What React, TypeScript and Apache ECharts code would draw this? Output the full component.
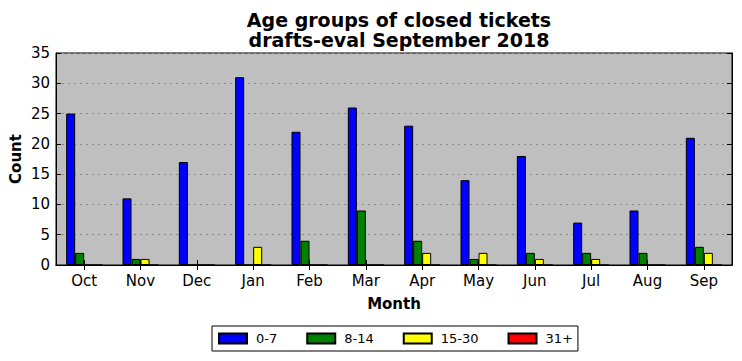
import React, { useEffect, useRef } from "react";
import * as echarts from "echarts";

const months = ["Oct", "Nov", "Dec", "Jan", "Feb", "Mar", "Apr", "May", "Jun", "Jul", "Aug", "Sep"];
const age0to7 = [25, 11, 17, 31, 22, 26, 23, 14, 18, 7, 9, 21];
const age8to14 = [2, 1, 0, 0, 4, 9, 4, 1, 2, 2, 2, 3];
const age15to30 = [0, 1, 0, 3, 0, 0, 2, 2, 1, 1, 0, 2];
const age31plus = [0, 0, 0, 0, 0, 0, 0, 0, 0, 0, 0, 0];
const seriesNames = ["0-7", "8-14", "15-30", "31+"];
const seriesColors = ["#0000ff", "#008000", "#ffff00", "#ff0000"];

const FONT = "DejaVu Sans";

export default function App() {
  const ref = useRef<HTMLDivElement>(null);
  useEffect(() => {
    if (!ref.current) return;
    const chart = echarts.init(ref.current, null, { renderer: "svg" });
    const values = [age0to7, age8to14, age15to30, age31plus];
    const tickStyle = { show: true, inside: true, length: 5, lineStyle: { color: "#000", width: 1 } };
    chart.setOption({
      animation: false,
      textStyle: { fontFamily: FONT },
      title: {
        text: "Age groups of closed tickets\ndrafts-eval September 2018",
        left: 394,
        textAlign: "center",
        top: 5,
        textStyle: { fontFamily: FONT, fontSize: 19, fontWeight: "bold", color: "#000", lineHeight: 20 },
      },
      grid: {
        left: 56,
        right: 10,
        top: 53,
        bottom: 96,
        show: true,
        backgroundColor: "#bfbfbf",
        borderColor: "#000",
        borderWidth: 1,
        containLabel: false,
        outerBoundsMode: "none",
      },
      legend: {
        left: 212,
        top: 326,
        orient: "horizontal",
        data: seriesNames,
        icon: "rect",
        itemWidth: 28,
        itemHeight: 10,
        itemGap: 29,
        padding: [6, 5, 6, 6],
        borderColor: "#000",
        borderWidth: 1,
        backgroundColor: "#fff",
        borderRadius: 0,
        textStyle: { fontFamily: FONT, fontSize: 13, color: "#000", padding: [0, 0, 0, 4] },
      },
      xAxis: [
        {
          type: "category",
          data: months,
          position: "bottom",
          axisLine: { show: true, lineStyle: { color: "#000" } },
          axisTick: { ...tickStyle, alignWithLabel: true },
          axisLabel: { fontFamily: FONT, fontSize: 15, color: "#000", margin: 8 },
          name: "Month",
          nameLocation: "middle",
          nameGap: 31,
          nameMoveOverlap: false,
          nameTextStyle: { fontFamily: FONT, fontSize: 15, fontWeight: "bold", color: "#000" },
          splitLine: { show: false },
        },
        {
          type: "category",
          data: months,
          position: "top",
          axisLine: { show: true, lineStyle: { color: "#000" } },
          axisTick: { ...tickStyle, alignWithLabel: true },
          axisLabel: { show: false },
          splitLine: { show: false },
        },
      ],
      yAxis: [
        {
          type: "value",
          min: 0,
          max: 35,
          interval: 5,
          position: "left",
          axisLine: { show: true, lineStyle: { color: "#000" } },
          axisTick: tickStyle,
          axisLabel: { fontFamily: FONT, fontSize: 15, color: "#000", margin: 6 },
          name: "Count",
          nameLocation: "middle",
          nameGap: 33,
          nameMoveOverlap: false,
          nameTextStyle: { fontFamily: FONT, fontSize: 15, fontWeight: "bold", color: "#000" },
          splitLine: { show: true, lineStyle: { color: "#8a8a8a", type: [2, 4], width: 1 } },
        },
        {
          type: "value",
          min: 0,
          max: 35,
          interval: 5,
          position: "right",
          axisLine: { show: true, lineStyle: { color: "#000" } },
          axisTick: tickStyle,
          axisLabel: { show: false },
          splitLine: { show: false },
        },
      ],
      series: seriesNames.map((name, i) => ({
        name,
        type: "bar",
        xAxisIndex: 0,
        yAxisIndex: 0,
        data: values[i],
        barWidth: 9,
        barGap: "0%",
        itemStyle: { color: seriesColors[i], borderColor: "#000", borderWidth: 1 },
      })),
    });
    return () => chart.dispose();
  }, []);
  return <div ref={ref} style={{ width: 742, height: 361, position: "absolute", left: 0, top: 0 }} />;
}
